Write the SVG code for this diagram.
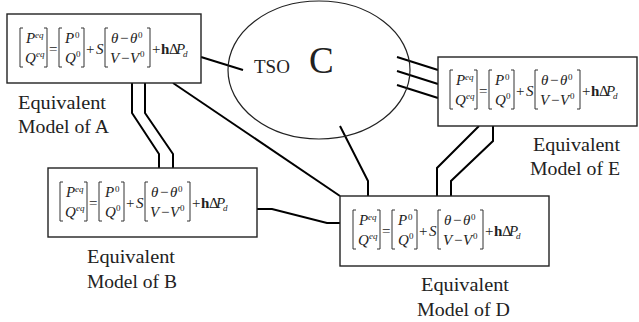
<svg xmlns="http://www.w3.org/2000/svg" xmlns:xlink="http://www.w3.org/1999/xlink" width="639" height="322" viewBox="0 0 639 322">
<style>
.box{fill:#fff;stroke:#222;stroke-width:1.4}
.br{fill:none;stroke:#333;stroke-width:1}
.fi{font-family:"Liberation Serif",serif;font-size:15px;font-style:italic;fill:#222}
.fn{font-family:"Liberation Serif",serif;font-size:15px;fill:#222}
.fb{font-family:"Liberation Serif",serif;font-size:15px;font-weight:bold;fill:#222}
.sp{font-family:"Liberation Serif",serif;font-size:9px;fill:#222}
.spi{font-family:"Liberation Serif",serif;font-size:9px;font-style:italic;fill:#222}
.lbl{font-family:"Liberation Serif",serif;font-size:18px;fill:#222}
.con{fill:none;stroke:#000;stroke-width:2}
</style>
<defs>
<g id="fm">
<path class="br" d="M3,-20 H0 V19 H3 M24,-20 H27 V19 H24 M42,-20 H39 V19 H42 M61,-20 H64 V19 H61 M88,-20 H85 V19 H88 M127,-20 H130 V19 H127"/>
<text class="fi" x="6" y="-5">P</text><text class="spi" x="15" y="-10">eq</text>
<text class="fi" x="5" y="15">Q</text><text class="spi" x="16" y="9">eq</text>
<text class="fn" x="29" y="6">=</text>
<text class="fi" x="45" y="-5">P</text><text class="sp" x="55" y="-10">0</text>
<text class="fi" x="45" y="15">Q</text><text class="sp" x="56" y="9">0</text>
<text class="fn" x="66" y="6">+</text><text class="fi" x="76" y="6">S</text>
<text class="fi" x="91" y="-5">θ</text><text class="fn" x="100" y="-5">−</text><text class="fi" x="110" y="-5">θ</text><text class="sp" x="118" y="-10">0</text>
<text class="fi" x="90" y="15">V</text><text class="fn" x="101" y="15">−</text><text class="fi" x="110" y="15">V</text><text class="sp" x="120" y="9">0</text>
<text class="fn" x="132" y="6">+</text><text class="fb" x="141" y="6">h</text><text class="fn" x="149" y="6">Δ</text><text class="fi" x="156" y="6">P</text><text class="spi" x="163" y="9">d</text>
</g>
</defs>
<g id="connectors">
<path class="con" d="M201,57 L243,70"/>
<path class="con" d="M397,57 L438,70 M397,71 L438,84 M397,85 L438,98"/>
<path class="con" d="M132,83 V113 L159,154 V168 M145,83 V113 L173,154 V168"/>
<path class="con" d="M173,83 L340,196"/>
<path class="con" d="M340,126 L368,181 V196"/>
<path class="con" d="M257,209 H272 L327,223 H340"/>
<path class="con" d="M479,126 L437,168 V196 M493,126 V141 L451,181 V196"/>
</g>
<g id="nodeC">
<ellipse cx="319" cy="70" rx="91" ry="69" fill="none" stroke="#222" stroke-width="1.2"/>
<text x="254" y="73" font-family="'Liberation Serif',serif" font-size="19" fill="#222">TSO</text>
<text x="309" y="73" font-family="'Liberation Serif',serif" font-size="37" fill="#222">C</text>
</g>
<g id="nodeA">
<rect class="box" x="7" y="14" width="194" height="69"/>
<use xlink:href="#fm" transform="translate(20,48)"/>
<text class="lbl" x="18" y="109" textLength="88" lengthAdjust="spacingAndGlyphs">Equivalent</text>
<text class="lbl" x="18" y="133" textLength="91" lengthAdjust="spacingAndGlyphs">Model of A</text>
</g>
<g id="nodeB">
<rect class="box" x="48" y="168" width="209" height="69"/>
<use xlink:href="#fm" transform="translate(60,202)"/>
<text class="lbl" x="87" y="263" textLength="88" lengthAdjust="spacingAndGlyphs">Equivalent</text>
<text class="lbl" x="87" y="288" textLength="90" lengthAdjust="spacingAndGlyphs">Model of B</text>
</g>
<g id="nodeD">
<rect class="box" x="340" y="196" width="209" height="70"/>
<use xlink:href="#fm" transform="translate(353,230)"/>
<text class="lbl" x="421" y="291" textLength="88" lengthAdjust="spacingAndGlyphs">Equivalent</text>
<text class="lbl" x="417" y="316" textLength="93" lengthAdjust="spacingAndGlyphs">Model of D</text>
</g>
<g id="nodeE">
<rect class="box" x="438" y="57" width="199" height="69"/>
<use xlink:href="#fm" transform="translate(450,90)"/>
<text class="lbl" x="533" y="151" textLength="87" lengthAdjust="spacingAndGlyphs">Equivalent</text>
<text class="lbl" x="530" y="175" textLength="90" lengthAdjust="spacingAndGlyphs">Model of E</text>
</g>
</svg>
